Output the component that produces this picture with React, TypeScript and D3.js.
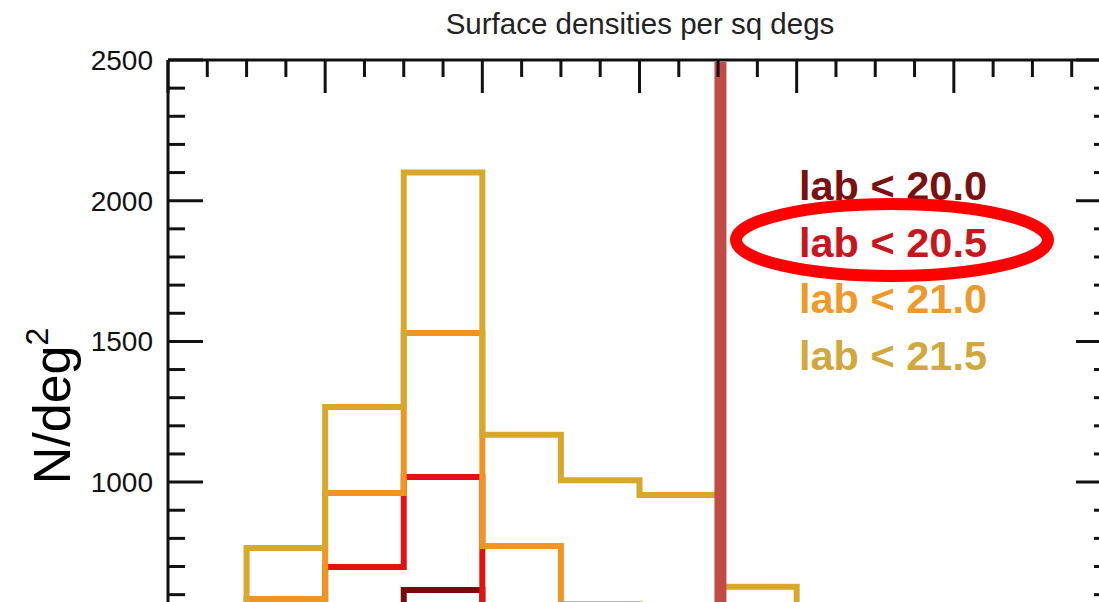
import React from "react";
import * as d3 from "d3";

// ---- data ----
const binStarts = [0, 0.5, 1, 1.5, 2, 2.5, 3, 3.5, 4, 4.5];
const binWidth = 0.5;
const lab200 = [50, 250, 430, 617, 350, 240, 150, 90, 50, 20];
const lab205 = [100, 380, 698, 1018, 520, 380, 260, 170, 100, 40];
const lab210 = [200, 585, 961, 1530, 773, 566, 420, 300, 180, 80];
const lab215 = [300, 766, 1267, 2100, 1168, 1007, 954, 628, 350, 150];
const seriesNames = ["lab < 20.0", "lab < 20.5", "lab < 21.0", "lab < 21.5"];
const seriesValues = [lab200, lab205, lab210, lab215];
const lineColors = ["#7a0a0a", "#e31212", "#f29420", "#d8a82c"];
const textColors = ["#7a1010", "#c8161e", "#ee9a2a", "#d2a83c"];
const yTicksMajor = [1000, 1500, 2000, 2500];
const cutValue = 3.515;
const highlightedIndex = 1;
const title = "Surface densities per sq degs";

const W = 1099;
const H = 602;
const FONT = "'Liberation Sans', Arial, Helvetica, sans-serif";

export default function App() {
  const x = d3.scaleLinear().domain([0, 6]).range([168, 1111]);
  const y = d3.scaleLinear().domain([0, 2500]).range([763.5, 60]);

  const minorX = d3.range(0, 6.001, 0.25);
  const minorY = d3.range(0, 2500.1, 100);

  const line = d3.line<[number, number]>().x((d) => d[0]).y((d) => d[1]);

  const histPath = (vals: number[]) => {
    const pts: [number, number][] = [];
    pts.push([x(binStarts[0]), y(0)]);
    vals.forEach((v, i) => {
      pts.push([x(binStarts[i]), y(v)]);
      pts.push([x(binStarts[i] + binWidth), y(v)]);
    });
    pts.push([x(binStarts[binStarts.length - 1] + binWidth), y(0)]);
    return line(pts) || "";
  };

  const legendX = 799;
  const legendY0 = 200;
  const legendStep = 56.5;

  return (
    <div>
      <style>{"body{margin:0;background:#fff}"}</style>
      <svg width={W} height={H} style={{ display: "block", overflow: "hidden" }}>
        <rect x={0} y={0} width={W} height={H} fill="#fff" />
        {/* title */}
        <text x={640} y={34} textAnchor="middle" fontFamily={FONT} fontSize={29.5} fill="#222">
          {title}
        </text>

        {/* histograms */}
        {seriesValues.map((vals, i) => (
          <path
            key={i}
            d={histPath(vals)}
            fill="none"
            stroke={lineColors[i]}
            strokeWidth={6}
            strokeLinejoin="miter"
            strokeLinecap="butt"
          />
        ))}

        {/* cut line */}
        <line x1={x(cutValue)} x2={x(cutValue)} y1={62} y2={y(0)} stroke="#c24b48" strokeWidth={12} />

        {/* axes box */}
        <g stroke="#111" strokeWidth={3} fill="none">
          <line x1={x(0)} x2={x(6)} y1={y(2500)} y2={y(2500)} />
          <line x1={x(0)} x2={x(0)} y1={y(2500)} y2={y(0)} />
          <line x1={x(6)} x2={x(6)} y1={y(2500)} y2={y(0)} />
          <line x1={x(0)} x2={x(6)} y1={y(0)} y2={y(0)} />
          {minorX.map((v, i) => {
            const major = Math.abs(v - Math.round(v)) < 1e-6;
            const len = major ? 33 : 17;
            return (
              <g key={"x" + i}>
                <line x1={x(v)} x2={x(v)} y1={y(2500)} y2={y(2500) + len} />
                <line x1={x(v)} x2={x(v)} y1={y(0)} y2={y(0) - len} />
              </g>
            );
          })}
          {minorY.map((v, i) => {
            const major = v % 500 === 0;
            const len = major ? 35 : 17;
            return (
              <g key={"y" + i}>
                <line x1={x(0)} x2={x(0) + len} y1={y(v)} y2={y(v)} />
                <line x1={x(6)} x2={x(6) - len} y1={y(v)} y2={y(v)} />
              </g>
            );
          })}
        </g>

        {/* y tick labels */}
        {yTicksMajor.map((v) => (
          <text
            key={v}
            x={153}
            y={y(v) + 10}
            textAnchor="end"
            fontFamily={FONT}
            fontSize={28}
            fill="#111"
          >
            {v}
          </text>
        ))}

        {/* y axis label */}
        <text
          transform={`translate(70, 406) rotate(-90)`}
          textAnchor="middle"
          fontFamily={FONT}
          fontSize={52}
          fill="#000"
        >
          N/deg
          <tspan fontSize={32} dy={-22}>2</tspan>
        </text>

        {/* legend */}
        {seriesNames.map((name, i) => (
          <text
            key={name}
            x={legendX}
            y={legendY0 + i * legendStep}
            fontFamily={FONT}
            fontWeight="bold"
            fontSize={41.5}
            fill={textColors[i]}
          >
            {name}
          </text>
        ))}

        {/* highlight ellipse */}
        <ellipse
          cx={892}
          cy={legendY0 + highlightedIndex * legendStep - 16.5}
          rx={156}
          ry={36}
          fill="none"
          stroke="#ff0000"
          strokeWidth={12}
        />
      </svg>
    </div>
  );
}
